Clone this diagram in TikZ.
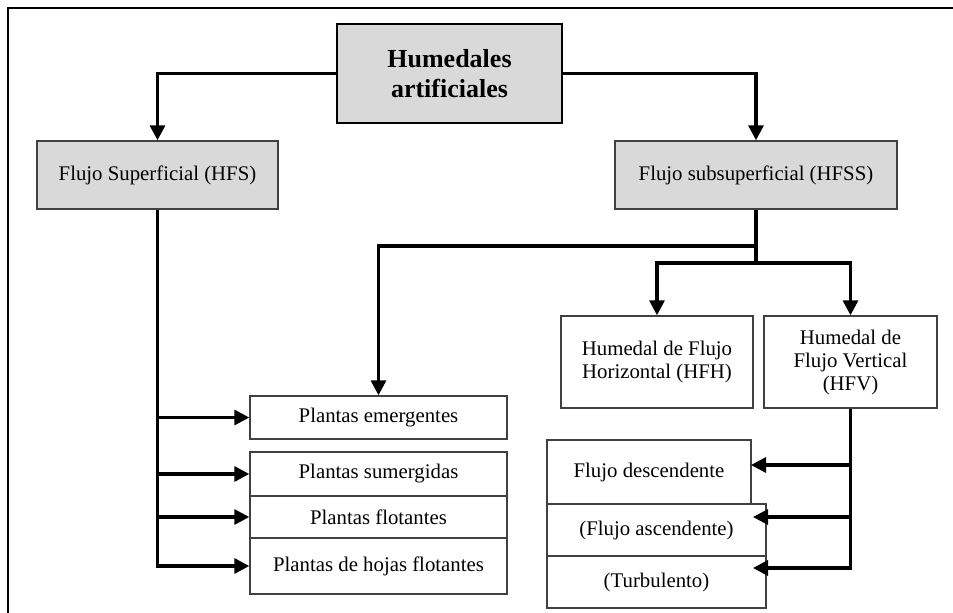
\documentclass[tikz,border=0pt]{standalone}
\usepackage{fontspec}
\setmainfont{Liberation Serif}
\usetikzlibrary{arrows.meta}
\definecolor{boxgray}{HTML}{D9D9D9}
\definecolor{edgegray}{HTML}{404040}
\tikzset{
  base/.style={draw=edgegray, line width=1.4pt, inner sep=0pt, align=center, anchor=center,
    font=\fontsize{20.8}{23}\selectfont, text=black},
  whitebox/.style={base, fill=white},
  graybox/.style={base, fill=boxgray},
  titlebox/.style={draw=black, line width=2.6pt, fill=boxgray, inner sep=0pt, align=center,
    font=\fontsize{26}{30}\selectfont\bfseries},
  conn/.style={line width=3.2pt, draw=black},
  arr/.style={conn, -{Triangle[length=15pt,width=15pt]}},
}
\begin{document}
\begin{tikzpicture}[x=1pt,y=-1pt]
\useasboundingbox (0,0) rectangle (953,613);
% frame
\draw[line width=2.8pt] (953,8) -- (8,8) -- (8,613);

% nodes
\node[titlebox, minimum width=225pt, minimum height=99pt] (top) at (449.5,73.5) {Humedales\\artificiales};
\node[graybox, minimum width=241pt, minimum height=68pt] (fs) at (157.5,175) {Flujo Superficial (HFS)};
\node[graybox, minimum width=282pt, minimum height=68pt] (fss) at (756,175) {Flujo subsuperficial (HFSS)};
\node[whitebox, minimum width=192pt, minimum height=92pt] (hfh) at (657,362) {Humedal de Flujo\\Horizontal (HFH)};
\node[whitebox, minimum width=173pt, minimum height=92pt] (hfv) at (850.5,362) {Humedal de\\Flujo Vertical\\(HFV)};

\node[whitebox, minimum width=257pt, minimum height=43pt] (em) at (378.5,417.5) {Plantas emergentes};
\node[whitebox, minimum width=257pt, minimum height=44pt] (sum) at (378.5,474) {Plantas sumergidas};
\node[whitebox, minimum width=257pt, minimum height=42pt] (flo) at (378.5,517) {Plantas flotantes};
\node[whitebox, minimum width=257pt, minimum height=56pt] (hoj) at (378.5,566) {Plantas de hojas flotantes};

\node[whitebox, minimum width=204pt, minimum height=64pt] (desc) at (649,472) {Flujo descendente};
\node[whitebox, minimum width=219pt, minimum height=52pt] (asc) at (656.5,530) {(Flujo ascendente)};
\node[whitebox, minimum width=219pt, minimum height=52pt] (turb) at (656.5,582) {(Turbulento)};

% junction coordinates
\coordinate (j1) at (756,246);
\coordinate (j2) at (756,263);
\coordinate (a1) at (751,465);
\coordinate (a2) at (753,517);
\coordinate (a3) at (753,568);

% connectors from title
\draw[arr] (top.west) -| (fs.north);
\draw[arr] (top.east) -| (fss.north);

% Flujo superficial branch
\draw[arr] (fs.south) |- (hoj.west);
\draw[arr] (fs.south |- em.west) -- (em.west);
\draw[arr] (fs.south |- sum.west) -- (sum.west);
\draw[arr] (fs.south |- flo.west) -- (flo.west);

% Flujo subsuperficial branch
\draw[conn] (fss.south) -- (j2);
\draw[arr] (j1) -| (em.north);
\draw[arr] (j2) -| (hfh.north);
\draw[arr] (j2) -| (hfv.north);

% HFV branch
\draw[arr] (hfv.south) |- (a3);
\draw[arr] (hfv.south |- a1) -- (a1);
\draw[arr] (hfv.south |- a2) -- (a2);
\end{tikzpicture}
\end{document}
